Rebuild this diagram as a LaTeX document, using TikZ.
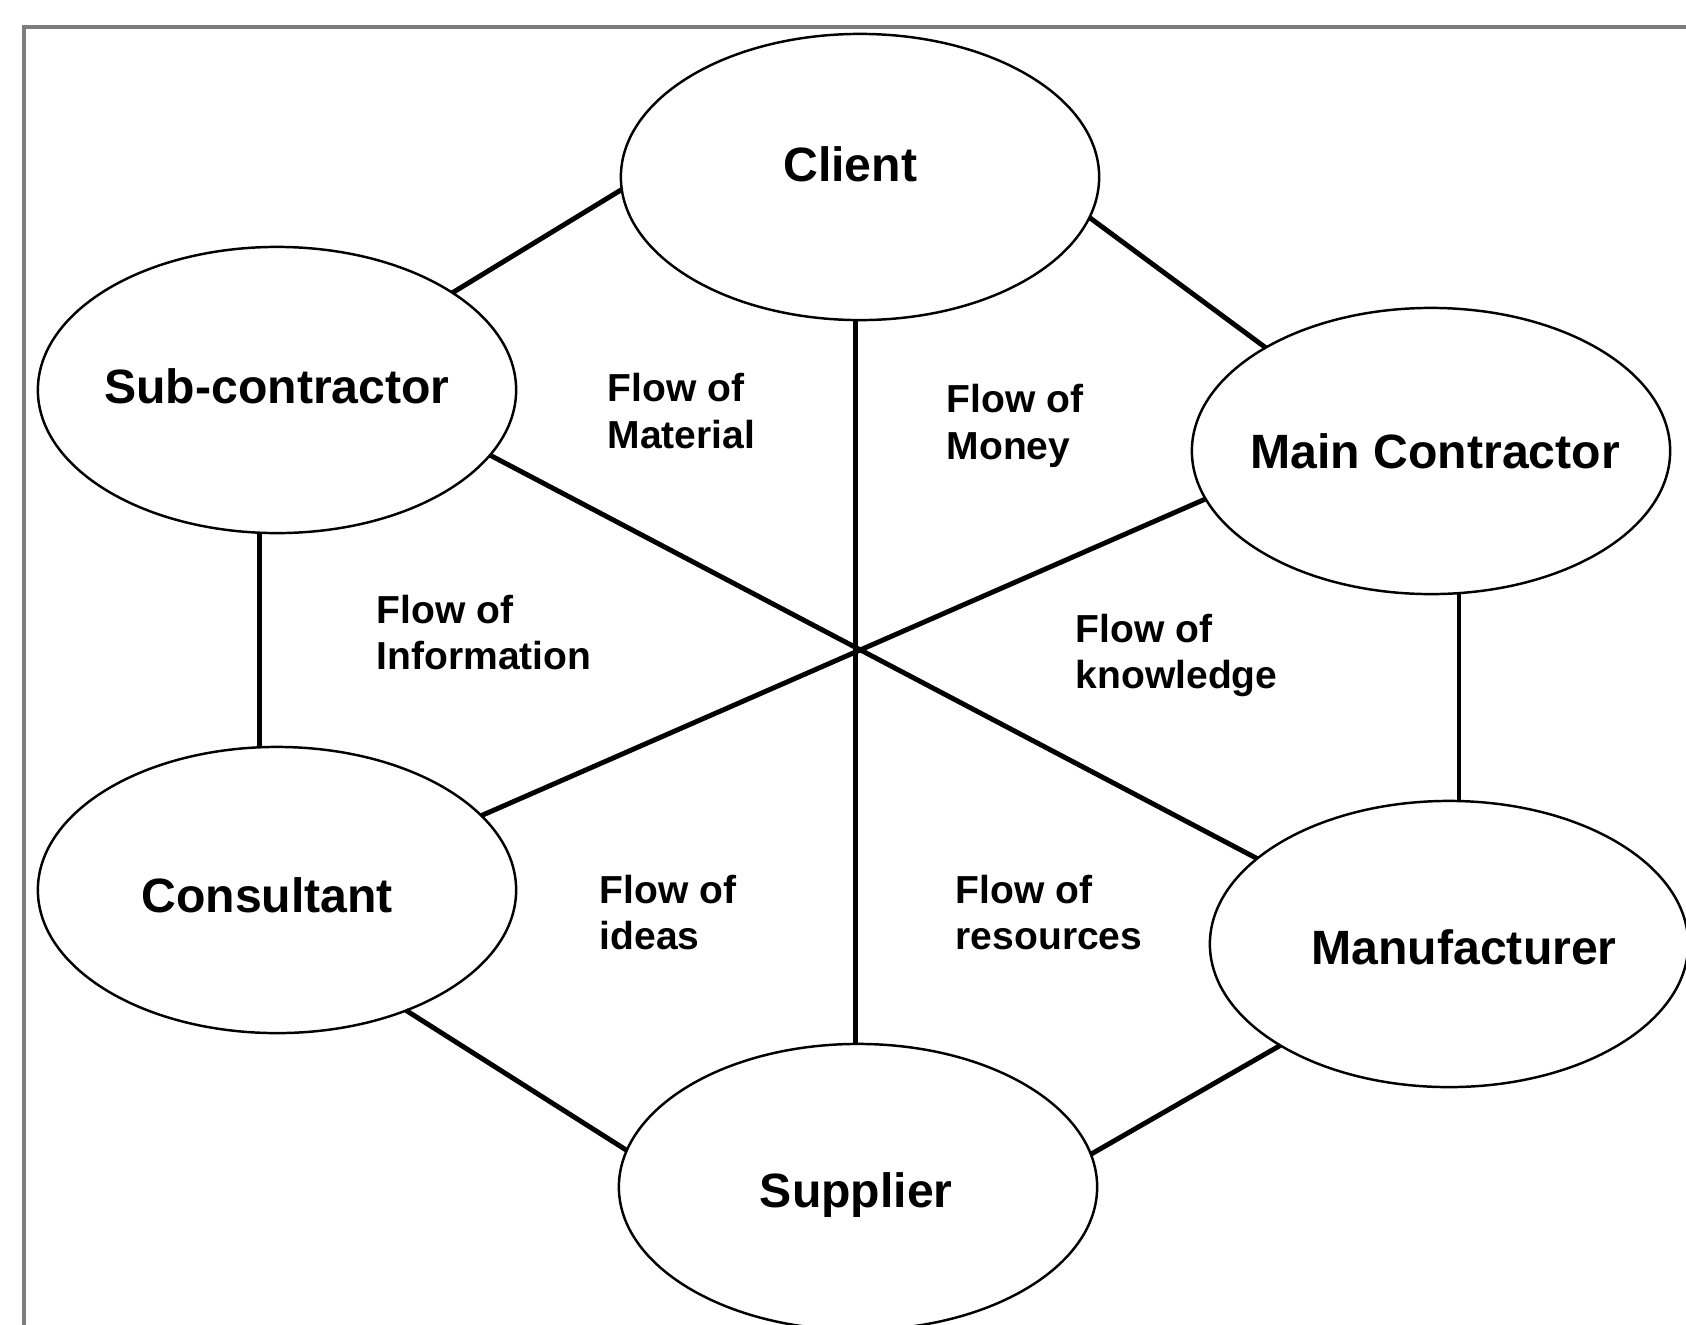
\documentclass[tikz,border=0pt]{standalone}
\usepackage{fontspec}
\setmainfont{Liberation Sans}
\usetikzlibrary{shapes.geometric}
\definecolor{framegray}{RGB}{125,125,125}
% text of a party, shifted right by #1 and up by #2, with no size of its own
\newcommand\partytext[3]{\smash{\makebox[0pt]{\kern#1\relax\raisebox{\dimexpr#2-0.36em\relax}{#3}\kern-#1\relax}}}
\begin{document}
\begin{tikzpicture}[x=0.01cm,y=-0.01cm,
  party/.style={ellipse,draw=black,line width=0.7pt,minimum width=4.78cm,minimum height=2.86cm,
    inner sep=0pt,outer sep=0pt,font=\fontsize{13.7}{16}\selectfont\bfseries},
  flowlabel/.style={anchor=north west,inner sep=0pt,align=left,
    font=\fontsize{11.1}{13.1}\selectfont\bfseries},
  link/.style={line width=1.4pt,black}]
\useasboundingbox (0,0) rectangle (1686,1324);
\clip (0,0) rectangle (1686,1324);
\fill[white] (0,0) rectangle (1686,1324);
\draw[framegray,line width=1.1pt] (24,27) rectangle (1760,1400);

\node[party] (client) at (860,177) {\partytext{-2.8pt}{3.7pt}{Client}};
\node[party] (sub) at (277,390) {\partytext{0pt}{1.2pt}{Sub-contractor}};
\node[party] (main) at (1431,451) {\partytext{1.2pt}{0pt}{Main Contractor}};
\node[party] (cons) at (277,890) {\partytext{-2.8pt}{-1.5pt}{Consultant}};
\node[party] (manu) at (1449,944) {\partytext{4.3pt}{-0.9pt}{Manufacturer}};
\node[party] (supp) at (858,1187) {\partytext{-0.5pt}{-0.9pt}{Supplier}};

\draw[link] (client.183.4) -- (sub.29.1);
\draw[link] (client.350.1) -- (main.148.5);
\draw[link] (cons.97.2) -- (cons.97.2 |- sub.south);
\draw[link] (manu.86) -- (manu.86 |- main.south);
\draw[link] (cons.317.3) -- (supp.171.7);
\draw[link] (manu.211.6) -- (supp.8.3);
\draw[link] (supp.91.2) -- (supp.91.2 |- client.south);
\draw[link] (sub.343.9) -- (manu.156.6);
\draw[link] (main.192.2) -- (cons.20.4);

\node[flowlabel] (lmat) at (607,373) {Flow of\\Material};
\node[flowlabel] (lmon) at (946,384) {Flow of\\Money};
\node[flowlabel] (linf) at (376,594) {Flow of\\Information};
\node[flowlabel] (lkno) at (1075,613) {Flow of\\knowledge};
\node[flowlabel] (lide) at (599,874) {Flow of\\ideas};
\node[flowlabel] (lres) at (955,874) {Flow of\\resources};
\end{tikzpicture}
\end{document}
